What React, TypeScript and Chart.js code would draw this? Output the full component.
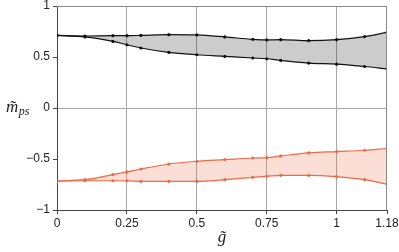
import React, { useEffect, useRef } from "react";
import { Chart, registerables } from "chart.js";

Chart.register(...registerables);

const gValues = [0, 0.1, 0.2, 0.25, 0.3, 0.4, 0.5, 0.6, 0.7, 0.75, 0.8, 0.9, 1.0, 1.1, 1.18];
const blackUpper = [0.712, 0.706, 0.709, 0.709, 0.712, 0.719, 0.716, 0.697, 0.673, 0.667, 0.67, 0.66, 0.67, 0.70, 0.742];
const blackLower = [0.712, 0.697, 0.653, 0.62, 0.588, 0.545, 0.522, 0.506, 0.49, 0.483, 0.466, 0.44, 0.43, 0.407, 0.384];
const redUpper = [-0.716, -0.703, -0.653, -0.627, -0.598, -0.549, -0.522, -0.506, -0.49, -0.486, -0.47, -0.44, -0.427, -0.414, -0.397];
const redLower = [-0.716, -0.713, -0.713, -0.713, -0.72, -0.72, -0.72, -0.703, -0.68, -0.67, -0.66, -0.66, -0.673, -0.703, -0.746];

const xTicks = [0, 0.25, 0.5, 0.75, 1, 1.18];
const xTickLabels = ["0", "0.25", "0.5", "0.75", "1", "1.18"];
const yTicks = [-1, -0.5, 0, 0.5, 1];
const yTickLabels = ["\u22121", "\u22120.5", "0", "0.5", "1"];

const BLACK = "#111111";
const RED = "#EE6A42";

function toPts(ys: number[]) {
  return gValues.map((x, i) => ({ x, y: ys[i] }));
}

const framePlugin = {
  id: "frameAndTitles",
  afterDraw(chart: any) {
    const ctx = chart.ctx;
    const { left, right, top, bottom } = chart.chartArea;
    ctx.save();
    ctx.strokeStyle = "#8a8a8a";
    ctx.lineWidth = 1;
    ctx.beginPath();
    ctx.moveTo(left, top + 0.5);
    ctx.lineTo(right, top + 0.5);
    ctx.moveTo(right - 0.5, top);
    ctx.lineTo(right - 0.5, bottom);
    ctx.stroke();

    // y title
    ctx.fillStyle = "#222";
    ctx.textBaseline = "alphabetic";
    ctx.textAlign = "left";
    ctx.font = "italic 17px 'Liberation Serif'";
    const yMid = (top + bottom) / 2;
    ctx.fillText("m\u0303", 6, yMid + 4);
    const mw = ctx.measureText("m").width;
    ctx.font = "italic 12px 'Liberation Serif'";
    ctx.fillText("ps", 6 + mw + 0.5, yMid + 7);

    // x title
    ctx.font = "italic 17px 'Liberation Serif'";
    ctx.textAlign = "center";
    ctx.fillText("g\u0303", (left + right) / 2, 242);
    ctx.restore();
  },
};

export default function App() {
  const ref = useRef<HTMLCanvasElement | null>(null);
  useEffect(() => {
    if (!ref.current) return;
    const chart = new Chart(ref.current, {
      type: "line",
      data: {
        datasets: [
          {
            label: "black upper",
            data: toPts(blackUpper),
            borderColor: BLACK,
            backgroundColor: BLACK,
            borderWidth: 1.2,
            pointRadius: 1.6,
            pointBackgroundColor: BLACK,
            pointBorderWidth: 0,
            fill: false,
            cubicInterpolationMode: "monotone",
          },
          {
            label: "black lower",
            data: toPts(blackLower),
            borderColor: BLACK,
            backgroundColor: "rgba(0,0,0,0.2)",
            borderWidth: 1.2,
            pointRadius: 1.6,
            pointBackgroundColor: BLACK,
            pointBorderWidth: 0,
            fill: "-1",
            cubicInterpolationMode: "monotone",
          },
          {
            label: "red upper",
            data: toPts(redUpper),
            borderColor: RED,
            backgroundColor: RED,
            borderWidth: 1.2,
            pointRadius: 1.6,
            pointBackgroundColor: RED,
            pointBorderWidth: 0,
            fill: false,
            cubicInterpolationMode: "monotone",
          },
          {
            label: "red lower",
            data: toPts(redLower),
            borderColor: RED,
            backgroundColor: "rgba(238,106,66,0.22)",
            borderWidth: 1.2,
            pointRadius: 1.6,
            pointBackgroundColor: RED,
            pointBorderWidth: 0,
            fill: "-1",
            cubicInterpolationMode: "monotone",
          },
        ],
      },
      options: {
        responsive: false,
        animation: false,
        events: [],
        layout: { padding: { top: 6, right: 12, left: 0, bottom: 0 } },
        plugins: { legend: { display: false }, tooltip: { enabled: false } },
        scales: {
          x: {
            type: "linear",
            min: 0,
            max: 1.18,
            afterBuildTicks: (s: any) => {
              s.ticks = xTicks.map((v) => ({ value: v }));
            },
            afterFit: (s: any) => {
              s.height = 42;
              s.paddingLeft = 0;
              s.paddingRight = 0;
            },
            ticks: {
              autoSkip: false,
              maxRotation: 0,
              padding: 2,
              color: "#222",
              font: { family: "'Liberation Sans'", size: 12 },
              callback: (v: any) => {
                const i = xTicks.findIndex((t) => Math.abs(t - Number(v)) < 1e-6);
                return i >= 0 ? xTickLabels[i] : "";
              },
            },
            grid: {
              color: (c: any) => {
                const v = c.tick ? c.tick.value : 0;
                return v > 0.01 && v < 1.1 ? "#a8a8a8" : "rgba(0,0,0,0)";
              },
              tickColor: "#444",
              tickLength: 4,
              lineWidth: 1,
            },
            border: { display: true, color: "#444", width: 1 },
          },
          y: {
            type: "linear",
            min: -1,
            max: 1,
            afterBuildTicks: (s: any) => {
              s.ticks = yTicks.map((v) => ({ value: v }));
            },
            afterFit: (s: any) => {
              s.width = 57;
              s.paddingTop = 0;
              s.paddingBottom = 0;
            },
            ticks: {
              autoSkip: false,
              padding: 3,
              color: "#222",
              font: { family: "'Liberation Sans'", size: 12 },
              callback: (v: any) => {
                const i = yTicks.findIndex((t) => Math.abs(t - Number(v)) < 1e-6);
                return i >= 0 ? yTickLabels[i] : "";
              },
            },
            grid: {
              color: (c: any) => {
                const v = c.tick ? c.tick.value : 1;
                return Math.abs(v) < 1e-6 ? "#a8a8a8" : "rgba(0,0,0,0)";
              },
              tickColor: "#444",
              tickLength: 4,
              lineWidth: 1,
            },
            border: { display: true, color: "#444", width: 1 },
          },
        },
      },
      plugins: [framePlugin],
    } as any);
    return () => chart.destroy();
  }, []);
  return (
    <div style={{ position: "absolute", left: 0, top: 0, width: 399, height: 252, background: "#fff" }}>
      <canvas ref={ref} width={399} height={252} style={{ display: "block" }} />
    </div>
  );
}
